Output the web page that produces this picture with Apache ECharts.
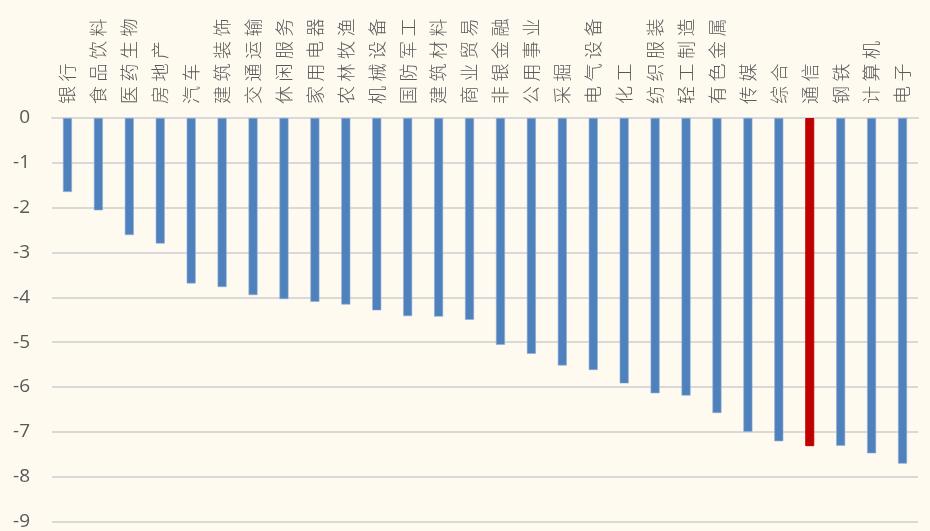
<!DOCTYPE html>
<html>
<head>
<meta charset="utf-8">
<script src="https://cdn.jsdelivr.net/npm/echarts@6/dist/echarts.min.js"></script>
<style>
  html, body { margin: 0; padding: 0; background: #FFFAF0; }
  #chart { width: 930px; height: 531px; }
</style>
</head>
<body>
<div id="chart"></div>
<script>
// Industry names and their returns (%)
const industries = ['银行','食品饮料','医药生物','房地产','汽车','建筑装饰','交通运输','休闲服务','家用电器','农林牧渔','机械设备','国防军工','建筑材料','商业贸易','非银金融','公用事业','采掘','电气设备','化工','纺织服装','轻工制造','有色金属','传媒','综合','通信','钢铁','计算机','电子'];
const returns = [-1.65,-2.06,-2.61,-2.80,-3.69,-3.77,-3.95,-4.04,-4.10,-4.16,-4.29,-4.42,-4.43,-4.50,-5.06,-5.26,-5.52,-5.62,-5.92,-6.14,-6.19,-6.58,-7.00,-7.21,-7.32,-7.31,-7.48,-7.71];
const highlighted = ['通信'];
const yMin = -9, yMax = 0, yStep = 1;

const blue = '#4F81BD', red = '#C00000';
const chart = echarts.init(document.getElementById('chart'));

// quarter-em spaces give the rotated category names some tracking
const spaced = s => s.split('').join('\u2005');

chart.setOption({
  backgroundColor: '#FFFAF0',
  animation: false,
  grid: { left: 52, right: 12, top: 118, bottom: 9, containLabel: false },
  xAxis: {
    type: 'category',
    position: 'top',
    data: industries,
    axisLine: { lineStyle: { color: '#D9D9D9', width: 2 } },
    axisTick: { show: false },
    axisLabel: {
      interval: 0,
      rotate: 90,
      margin: 14,
      fontSize: 18,
      fontWeight: 300,
      color: '#595959',
      fontFamily: 'Noto Sans CJK SC',
      formatter: v => spaced(v)
    }
  },
  yAxis: {
    type: 'value',
    min: yMin, max: yMax, interval: yStep,
    axisLine: { show: false },
    axisTick: { show: false },
    splitLine: { lineStyle: { color: '#D9D9D9', width: 2 } },
    axisLabel: {
      margin: 22,
      fontSize: 19,
      color: '#595959',
      fontFamily: 'Open Sans'
    }
  },
  series: [{
    type: 'bar',
    barWidth: 9,
    data: returns.map((v, i) => {
      const hot = highlighted.includes(industries[i]);
      return {
        value: v,
        itemStyle: hot
          ? { color: red, borderColor: red, borderWidth: 1 }
          : { color: blue, borderColor: '#8FAEDA', borderWidth: 0.6 }
      };
    })
  }]
});
</script>
</body>
</html>
